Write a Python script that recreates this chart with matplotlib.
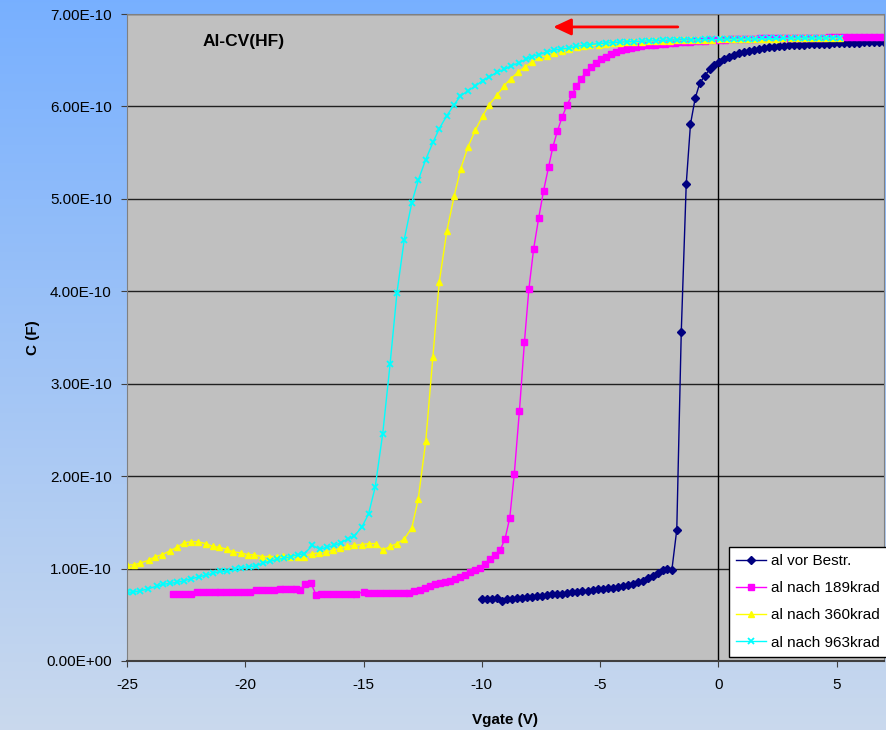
import numpy as np
import matplotlib
matplotlib.use("Agg")
import matplotlib.pyplot as plt
from matplotlib.ticker import FuncFormatter

plt.rcParams['font.family'] = ['Liberation Sans', 'DejaVu Sans']
plt.rcParams['axes.unicode_minus'] = False

# Vgate (V) und C in Einheiten von 1e-10 F
vor_x = [-10.0, -9.79, -9.58, -9.37, -9.16, -8.94, -8.73, -8.52, -8.31, -8.09, -7.88, -7.67,
         -7.45, -7.24, -7.03, -6.81, -6.6, -6.39, -6.17, -5.96, -5.75, -5.53, -5.32, -5.11,
         -4.89, -4.68, -4.47, -4.25, -4.04, -3.83, -3.61, -3.4, -3.19, -2.97, -2.76, -2.55,
         -2.33, -2.17, -1.97, -1.76, -1.57, -1.36, -1.18, -0.98, -0.79, -0.58, -0.37, -0.2,
         0.01, 0.22, 0.43, 0.65, 0.86, 1.07, 1.28, 1.49, 1.7, 1.92, 2.13, 2.34, 2.55, 2.76,
         2.98, 3.19, 3.4, 3.61, 3.83, 4.04, 4.25, 4.46, 4.68, 4.89, 5.1, 5.31, 5.53, 5.74,
         5.95, 6.16, 6.38, 6.59, 6.8, 7.01]
vor_c = [0.67, 0.67, 0.67, 0.685, 0.65, 0.67, 0.675, 0.68, 0.685, 0.69, 0.695, 0.70,
         0.705, 0.71, 0.72, 0.725, 0.73, 0.735, 0.745, 0.75, 0.755, 0.76, 0.765, 0.775,
         0.78, 0.785, 0.795, 0.80, 0.81, 0.82, 0.835, 0.85, 0.87, 0.895, 0.925, 0.955,
         0.98, 1.00, 0.98, 1.42, 3.56, 5.16, 5.81, 6.09, 6.25, 6.33, 6.40, 6.45,
         6.48, 6.51, 6.54, 6.56, 6.58, 6.59, 6.60, 6.61, 6.62, 6.63, 6.64, 6.645, 6.65, 6.655,
         6.66, 6.665, 6.67, 6.67, 6.675, 6.675, 6.68, 6.68, 6.68, 6.685, 6.685, 6.69, 6.69, 6.69,
         6.69, 6.695, 6.695, 6.695, 6.70, 6.70]

k189_x = [-23.04, -22.8, -22.55, -22.3, -22.05, -21.8, -21.55, -21.3, -21.05, -20.8, -20.55,
          -20.3, -20.05, -19.8, -19.55, -19.3, -19.05, -18.8, -18.55, -18.3, -18.05, -17.85,
          -17.68, -17.47, -17.23, -17.0, -16.8, -16.55, -16.3, -16.05, -15.8, -15.55, -15.3,
          -15.0, -14.8, -14.55, -14.3, -14.05, -13.8, -13.55, -13.3, -13.1, -12.85, -12.6,
          -12.4, -12.18, -11.97, -11.76, -11.55, -11.34, -11.13, -10.92, -10.7, -10.49, -10.28,
          -10.07, -9.86, -9.65, -9.44, -9.23, -9.02, -8.82, -8.63, -8.41, -8.2, -8.01, -7.81,
          -7.6, -7.39, -7.18, -7.0, -6.81, -6.6, -6.39, -6.18, -6.0, -5.81, -5.6, -5.39, -5.18,
          -4.97, -4.76, -4.55, -4.34, -4.13, -3.92, -3.71, -3.5, -3.29, -3.08, -2.87, -2.66,
          -2.45, -2.24, -2.03, -1.82, -1.61, -1.4, -1.19, -0.98, -0.77, -0.56, -0.35, -0.14,
          0.07, 0.28, 0.49, 0.7, 0.91, 1.12, 1.33, 1.54, 1.75, 1.96, 2.17, 2.38, 2.59, 2.8,
          3.01, 3.22, 3.43, 3.64, 3.85, 4.06, 4.27, 4.48, 4.69, 4.9, 5.11, 5.32, 5.53, 5.74,
          5.95, 6.16, 6.37, 6.58, 6.79, 7.0]
k189_c = [0.73, 0.73, 0.73, 0.73, 0.745, 0.745, 0.745, 0.745, 0.75, 0.75, 0.75,
          0.75, 0.75, 0.75, 0.765, 0.765, 0.765, 0.765, 0.78, 0.78, 0.78, 0.78,
          0.77, 0.83, 0.845, 0.71, 0.725, 0.73, 0.73, 0.73, 0.73, 0.73, 0.73,
          0.745, 0.735, 0.735, 0.735, 0.735, 0.735, 0.735, 0.735, 0.735, 0.76, 0.77,
          0.79, 0.81, 0.83, 0.845, 0.855, 0.87, 0.885, 0.91, 0.935, 0.96, 0.98,
          1.01, 1.05, 1.10, 1.145, 1.20, 1.32, 1.55, 2.02, 2.71, 3.45, 4.03, 4.46,
          4.79, 5.09, 5.34, 5.56, 5.73, 5.89, 6.02, 6.13, 6.22, 6.30, 6.37, 6.43, 6.47,
          6.51, 6.54, 6.57, 6.59, 6.61, 6.62, 6.635, 6.645, 6.65, 6.66, 6.665, 6.67,
          6.675, 6.68, 6.685, 6.69, 6.695, 6.70, 6.70, 6.705, 6.71, 6.71, 6.715, 6.72,
          6.72, 6.72, 6.725, 6.725, 6.73, 6.73, 6.73, 6.73, 6.735, 6.735, 6.735, 6.74, 6.74, 6.74,
          6.74, 6.74, 6.74, 6.745, 6.745, 6.745, 6.745, 6.745, 6.75, 6.75, 6.75, 6.75, 6.75, 6.75,
          6.75, 6.75, 6.75, 6.75, 6.75, 6.75]

k360_x = [-25.0, -24.72, -24.44, -24.08, -23.8, -23.52, -23.2, -22.89, -22.58, -22.3, -22.0,
          -21.67, -21.38, -21.09, -20.78, -20.5, -20.19, -19.89, -19.62, -19.3, -18.98, -18.67,
          -18.39, -18.1, -17.79, -17.51, -17.19, -16.88, -16.6, -16.3, -16.0, -15.71, -15.4,
          -15.07, -14.79, -14.48, -14.19, -13.88, -13.59, -13.28, -12.96, -12.69, -12.37, -12.07,
          -11.8, -11.48, -11.17, -10.9, -10.59, -10.28, -9.96, -9.69, -9.36, -9.07, -8.78, -8.47,
          -8.16, -7.88, -7.57, -7.24, -6.93, -6.61, -6.31, -5.97, -5.69, -5.41, -5.05, -4.75,
          -4.45, -4.15, -3.85, -3.55, -3.25, -2.95, -2.65, -2.35, -2.05, -1.75, -1.45, -1.15,
          -0.85, -0.55, -0.25, 0.05, 0.35, 0.65, 0.95, 1.25, 1.55, 1.85, 2.15, 2.45, 2.75,
          3.05, 3.35, 3.65, 3.95, 4.25, 4.55, 4.85, 5.15]
k360_c = [1.04, 1.04, 1.06, 1.09, 1.13, 1.15, 1.19, 1.23, 1.28, 1.29, 1.29,
          1.27, 1.24, 1.23, 1.21, 1.18, 1.17, 1.15, 1.15, 1.13, 1.13, 1.13,
          1.14, 1.13, 1.13, 1.13, 1.16, 1.17, 1.18, 1.20, 1.22, 1.24, 1.25,
          1.26, 1.27, 1.27, 1.20, 1.24, 1.27, 1.32, 1.44, 1.75, 2.38, 3.29,
          4.10, 4.65, 5.03, 5.32, 5.56, 5.74, 5.90, 6.02, 6.12, 6.22, 6.30, 6.37,
          6.43, 6.48, 6.53, 6.55, 6.58, 6.60, 6.62, 6.64, 6.65, 6.66, 6.67, 6.68,
          6.685, 6.69, 6.695, 6.70, 6.70, 6.705, 6.71, 6.71, 6.71, 6.715, 6.715, 6.72,
          6.72, 6.72, 6.72, 6.725, 6.725, 6.725, 6.725, 6.73, 6.73, 6.73, 6.73, 6.73, 6.735,
          6.735, 6.735, 6.735, 6.735, 6.74, 6.74, 6.74, 6.74]

k963_x = [-25.0, -24.74, -24.43, -24.12, -23.75, -23.47, -23.19, -22.88, -22.57, -22.28, -21.96,
          -21.64, -21.35, -21.07, -20.76, -20.45, -20.17, -19.84, -19.56, -19.24, -18.95, -18.64,
          -18.36, -18.08, -17.79, -17.51, -17.16, -16.85, -16.55, -16.24, -15.96, -15.67, -15.4,
          -15.07, -14.79, -14.51, -14.19, -13.88, -13.59, -13.28, -12.96, -12.69, -12.38, -12.07,
          -11.8, -11.48, -11.17, -10.91, -10.59, -10.27, -9.97, -9.68, -9.36, -9.05, -8.76, -8.44,
          -8.13, -7.88, -7.6, -7.24, -6.96, -6.65, -6.33, -6.02, -5.69, -5.41, -5.05, -4.75,
          -4.45, -4.15, -3.85, -3.55, -3.25, -2.95, -2.65, -2.35, -2.05, -1.75, -1.45, -1.15,
          -0.85, -0.55, -0.25, 0.05, 0.35, 0.65, 0.95, 1.25, 1.55, 1.85, 2.15, 2.45, 2.75,
          3.05, 3.35, 3.65, 3.95, 4.25, 4.55, 4.85, 5.15]
k963_c = [0.745, 0.745, 0.76, 0.78, 0.81, 0.83, 0.84, 0.85, 0.87, 0.89, 0.91,
          0.93, 0.95, 0.97, 0.97, 0.99, 1.01, 1.02, 1.03, 1.06, 1.08, 1.10,
          1.11, 1.13, 1.15, 1.16, 1.25, 1.21, 1.23, 1.25, 1.28, 1.32, 1.35,
          1.45, 1.59, 1.88, 2.46, 3.21, 3.98, 4.56, 4.96, 5.20, 5.42, 5.61,
          5.76, 5.90, 6.02, 6.11, 6.17, 6.22, 6.28, 6.32, 6.37, 6.40, 6.44, 6.47,
          6.51, 6.54, 6.56, 6.59, 6.61, 6.62, 6.63, 6.65, 6.66, 6.67, 6.68, 6.685,
          6.69, 6.695, 6.70, 6.70, 6.705, 6.71, 6.71, 6.715, 6.715, 6.72, 6.72, 6.72,
          6.72, 6.725, 6.725, 6.725, 6.73, 6.73, 6.73, 6.73, 6.73, 6.735, 6.735, 6.735, 6.735,
          6.74, 6.74, 6.74, 6.74, 6.74, 6.74, 6.745, 6.745]

labels = ['al vor Bestr.', 'al nach 189krad', 'al nach 360krad', 'al nach 963krad']

fig = plt.figure(figsize=(8.87, 7.3), dpi=100)

# Hintergrund: Farbverlauf blau
bg = fig.add_axes([0, 0, 1, 1])
top = np.array([0.47, 0.69, 1.0])
bot = np.array([0.79, 0.85, 0.93])
t = np.linspace(0, 1, 256)[:, None]
grad = (1 - t) * top + t * bot
bg.imshow(grad[:, None, :], aspect='auto', extent=[0, 1, 0, 1])
bg.axis('off')

ax = fig.add_axes([127/887, 69/730, 757/887, 647/730])
ax.set_facecolor('#c0c0c0')

ax.plot(vor_x, np.array(vor_c)*1e-10, color='#000080', marker='D', ms=4.3, lw=1, label=labels[0])
ax.plot(k189_x, np.array(k189_c)*1e-10, color='#ff00ff', marker='s', ms=4.3, lw=1, label=labels[1])
ax.plot(k360_x, np.array(k360_c)*1e-10, color='#ffff00', marker='^', ms=5, lw=1, label=labels[2])
ax.plot(k963_x, np.array(k963_c)*1e-10, color='#00ffff', marker='x', ms=5, mew=1.3, lw=1, label=labels[3])

ax.set_xlim(-25, 7)
ax.set_ylim(0, 7e-10)
ax.set_xticks([-25, -20, -15, -10, -5, 0, 5])
ax.set_yticks(np.arange(0, 8)*1e-10)
ax.yaxis.set_major_formatter(FuncFormatter(lambda v, p: '%.2E' % v))
ax.yaxis.grid(True, color='#202020', lw=1)
ax.set_axisbelow(True)
ax.axvline(0, color='black', lw=1, zorder=1)

for s in ['left', 'top', 'right']:
    ax.spines[s].set_color('#808080')
ax.spines['bottom'].set_color('#404040')
ax.spines['bottom'].set_linewidth(1.5)
ax.tick_params(axis='both', labelsize=11, length=4, direction='out', color='#404040')
ax.tick_params(axis='y', pad=7)
ax.tick_params(axis='x', pad=8)

ax.set_xlabel('Vgate (V)', fontsize=11, fontweight='bold')
ax.xaxis.set_label_coords(0.5, -0.08)
ax.set_ylabel('C (F)', fontsize=11, fontweight='bold')
ax.yaxis.set_label_coords(-0.115, 0.5)

ax.text(0.1, 0.958, 'Al-CV(HF)', transform=ax.transAxes, fontsize=12.5, fontweight='bold',
        va='center', ha='left')

# roter Pfeil (Sweep-Richtung)
ax.annotate('', xy=(-7.1, 6.86e-10), xytext=(-1.6, 6.86e-10),
            arrowprops=dict(arrowstyle='-|>,head_length=0.9,head_width=0.42',
                            color='red', lw=2, mutation_scale=12))

leg = ax.legend(loc='upper left', bbox_to_anchor=(729/887, 1 - 547/730),
                bbox_transform=fig.transFigure, fontsize=11, frameon=True,
                fancybox=False, edgecolor='black', framealpha=1, borderaxespad=0,
                handlelength=2.0, handletextpad=0.3, labelspacing=0.87, borderpad=0.45)
leg.get_frame().set_linewidth(1)

fig.savefig('out.png', dpi=100)
